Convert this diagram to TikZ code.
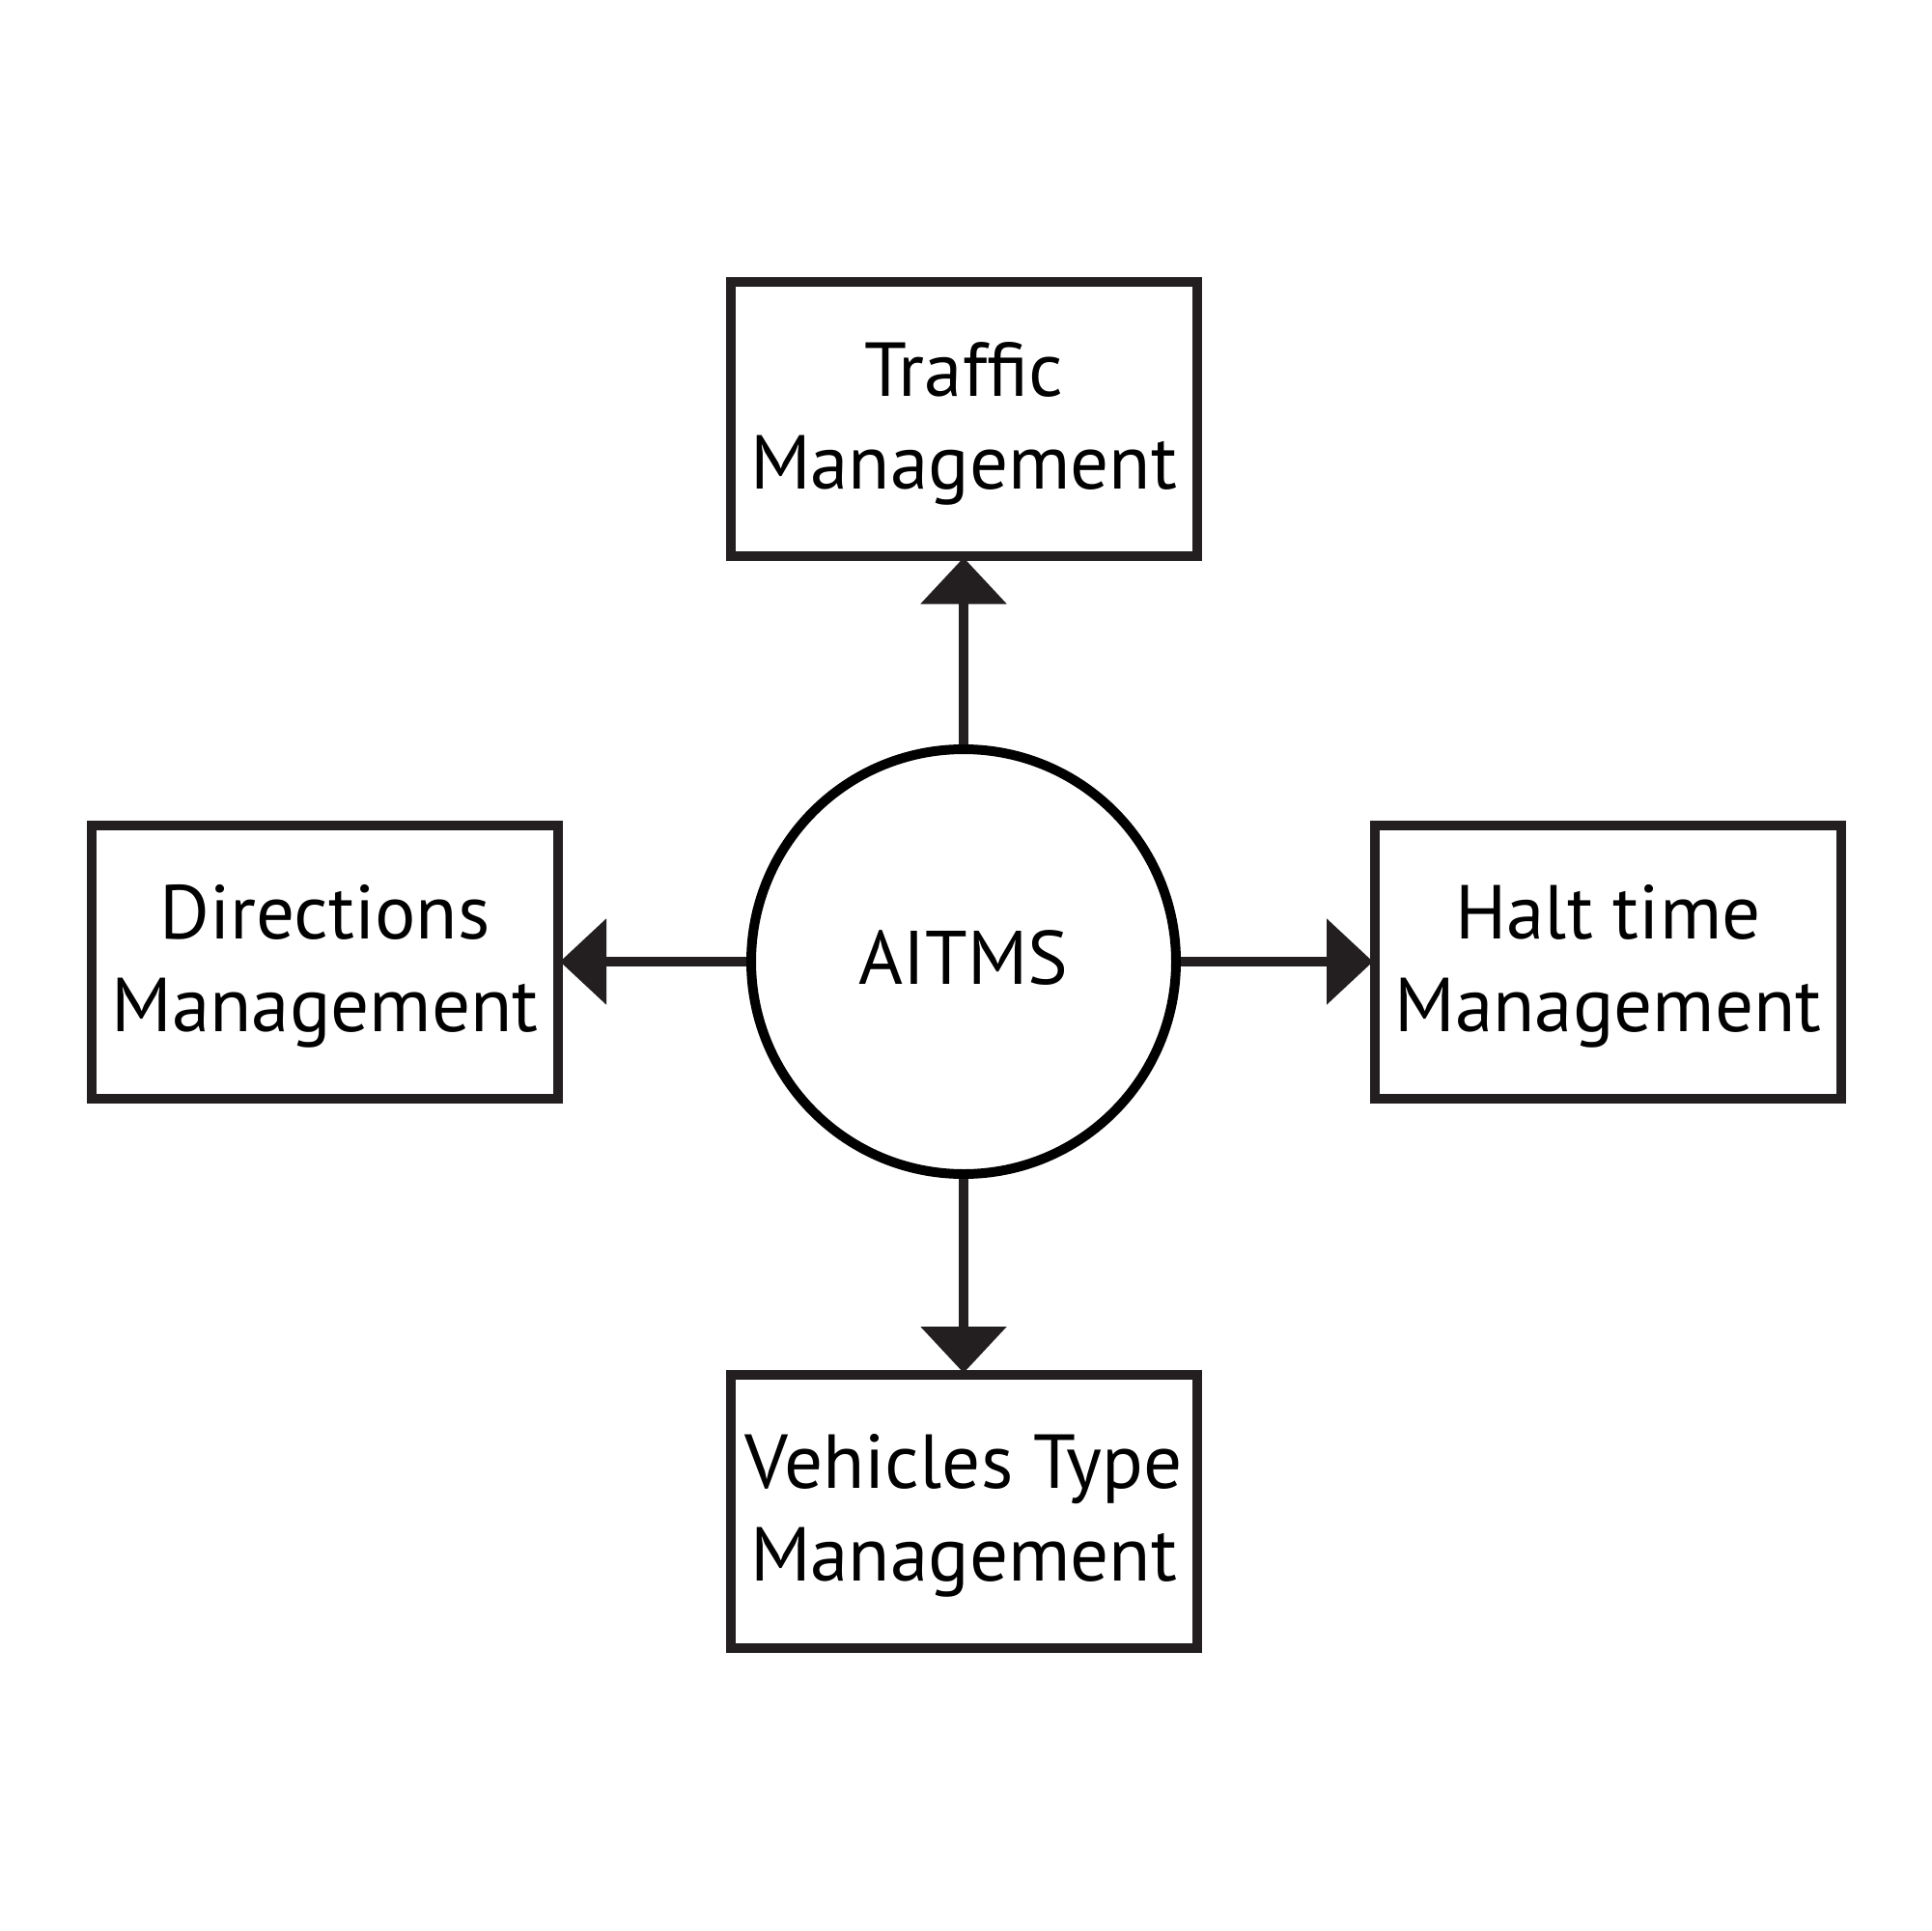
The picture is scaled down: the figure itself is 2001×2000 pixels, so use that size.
\documentclass[tikz,border=0pt]{standalone}
\usepackage{fontspec}
\setmainfont{PT Sans}
\usetikzlibrary{arrows.meta}
\definecolor{ink}{HTML}{231F20}
\newcommand\lowr[1]{\raisebox{-2.3pt}[\height][\depth]{#1}}
\begin{document}
\begin{tikzpicture}[x=0.5pt,y=-0.5pt,
  box/.style={draw=ink, line width=5pt, rectangle, minimum width=241.5pt, minimum height=141.5pt, inner sep=0pt, align=center, font=\fontsize{39.6}{48}\selectfont},
  hub/.style={draw=black, line width=5pt, circle, minimum size=220pt, inner sep=0pt, font=\fontsize{39.3}{48}\selectfont},
  link/.style={draw=ink, line width=5pt, shorten >=-1.5pt, -{Triangle[length=24pt,width=43.5pt]}}]
\fill[white] (0,0) rectangle (2001,2000);
\node[hub] (c) at (998,996) {\raisebox{2pt}[\height][\depth]{AITMS}};
\node[box] (t) at (998,434) {\lowr{Traffic}\\\lowr{Management}};
\node[box] (l) at (336.5,996) {\lowr{Directions}\\\lowr{Management}};
\node[box] (r) at (1665.5,996) {\lowr{Halt time}\\\lowr{Management}};
\node[box] (b) at (998,1565.5) {\lowr{Vehicles Type}\\\lowr{Management}};
\draw[link] (c) -- (t);
\draw[link] (c) -- (l);
\draw[link] (c) -- (r);
\draw[link] (c) -- (b);
\end{tikzpicture}
\end{document}
